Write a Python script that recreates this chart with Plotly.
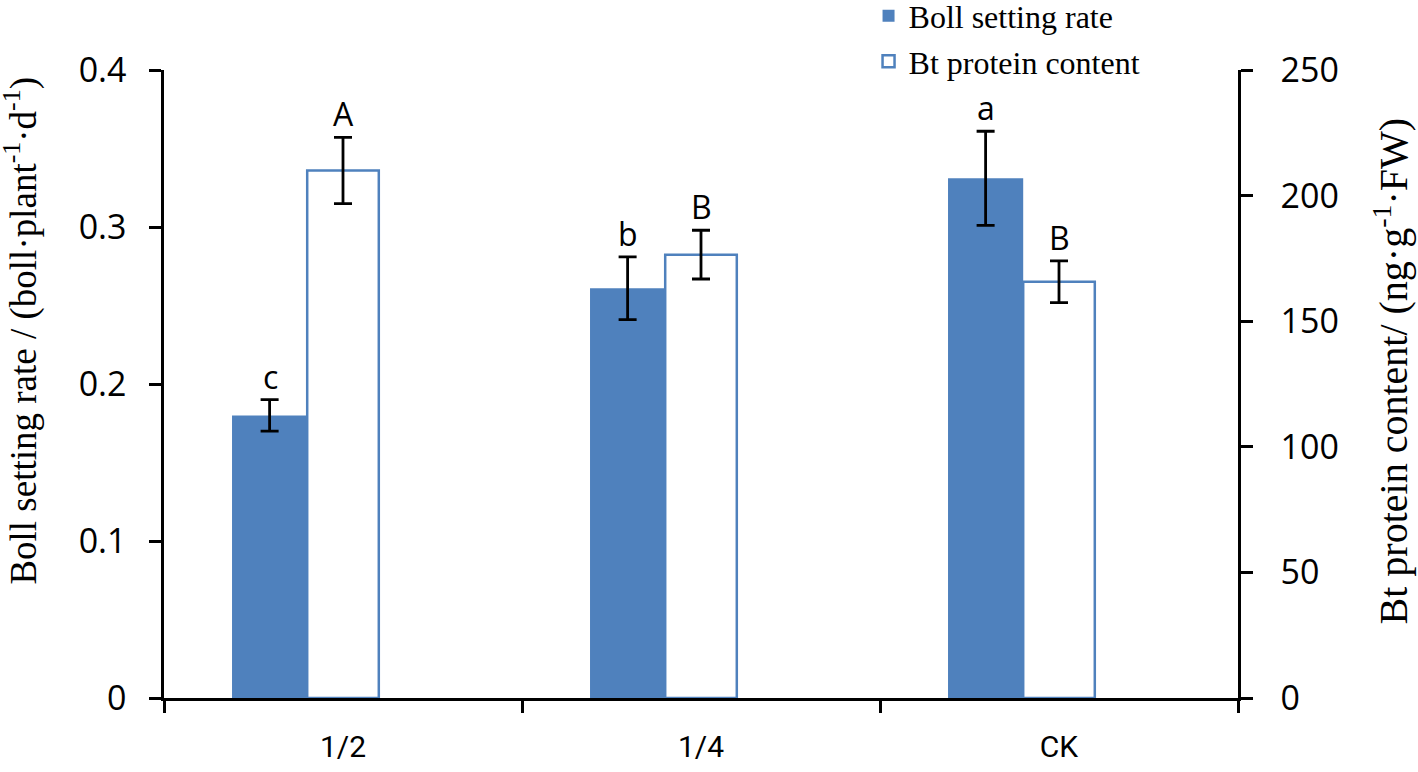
import plotly.graph_objects as go

# ---- data ----
categories = ["1/2", "1/4", "CK"]
boll_rate = [0.180, 0.261, 0.331]
boll_err = [0.010, 0.020, 0.030]
boll_letters = ["c", "b", "a"]
bt_content = [210.0, 176.5, 165.7]
bt_err = [13.2, 9.7, 8.3]
bt_letters = ["A", "B", "B"]

BLUE = "#4F81BD"
SANS = "Open Sans, Liberation Sans, sans-serif"
SERIF = "Liberation Serif, DejaVu Serif, serif"

fig = go.Figure()
fig.add_trace(go.Bar(
    x=categories, y=boll_rate, name="Boll setting rate",
    offset=-0.31, width=0.21,
    marker=dict(color=BLUE, line=dict(width=0)),
    error_y=dict(type="data", array=boll_err, color="black", thickness=2.8, width=9),
    yaxis="y", legendgroup="g1",
))
fig.add_trace(go.Bar(
    x=categories, y=bt_content, name="Bt protein content",
    offset=-0.10, width=0.20,
    marker=dict(color="white", line=dict(color=BLUE, width=2.5)),
    error_y=dict(type="data", array=bt_err, color="black", thickness=2.8, width=9),
    yaxis="y2", legendgroup="g2",
))

ann = []
for c, v, e, t in zip(categories, boll_rate, boll_err, boll_letters):
    ann.append(dict(x=c, y=v + e, xref="x", yref="y", text=t, showarrow=False,
                    xshift=-73, yanchor="bottom", yshift=0,
                    font=dict(family=SANS, size=32, color="black")))
for c, v, e, t in zip(categories, bt_content, bt_err, bt_letters):
    ann.append(dict(x=c, y=v + e, xref="x", yref="y2", text=t, showarrow=False,
                    xshift=0, yanchor="bottom", yshift=0,
                    font=dict(family=SANS, size=32, color="black")))
# axis titles
ann.append(dict(x=0, y=0.585, xref="paper", yref="paper", xanchor="center",
                xshift=-143, text="Boll setting rate / (boll·plant<sup>-1</sup>·d<sup>-1</sup>)",
                textangle=-90, showarrow=False,
                font=dict(family=SERIF, size=37, color="black")))
ann.append(dict(x=1, y=0.52, xref="paper", yref="paper", xanchor="center",
                xshift=153, text="Bt protein content/ (ng·g<sup>-1</sup>·FW)",
                textangle=-90, showarrow=False,
                font=dict(family=SERIF, size=40, color="black")))

axis_common = dict(showline=True, linecolor="black", linewidth=2.5, ticks="outside",
                   ticklen=12, tickwidth=2.5, tickcolor="black", showgrid=False,
                   zeroline=False)
yfont = dict(family=SANS, size=34, color="black")

fig.update_layout(
    width=1418, height=772,
    margin=dict(l=164, r=180, t=70, b=74, autoexpand=False),
    plot_bgcolor="white", paper_bgcolor="white",
    barmode="overlay",
    annotations=ann,
    showlegend=True,
    legend=dict(x=0.656, y=1.13, xanchor="left", yanchor="top",
                traceorder="grouped", tracegroupgap=1,
                font=dict(family=SERIF, size=32, color="black"),
                bgcolor="rgba(0,0,0,0)"),
    xaxis=dict(type="category", range=[-0.5, 2.5], tickson="boundaries",
               ticklabelstandoff=20, **axis_common,
               tickfont=dict(family="Liberation Sans Narrow, Roboto, sans-serif", size=30, color="black")),
    yaxis=dict(range=[0, 0.4], dtick=0.1, ticklabelstandoff=16, tickfont=yfont, **axis_common),
    yaxis2=dict(range=[0, 250], dtick=50, overlaying="y", side="right",
                ticklabelstandoff=21, tickfont=yfont, **axis_common),
)

fig.write_html("out.html", config={"displayModeBar": False},
               post_script="document.body.style.margin='0';")
